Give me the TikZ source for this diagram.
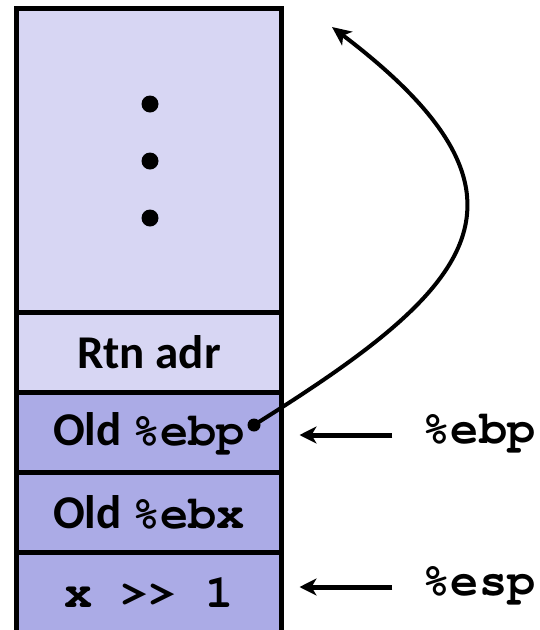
\documentclass[tikz,border=0pt]{standalone}
\usepackage{fontspec}
\setmainfont{Carlito}
\newcommand{\regfont}{\fontencoding{T1}\fontfamily{pcr}\fontseries{b}\selectfont}
\usepackage{tikz}
\usetikzlibrary{arrows.meta, positioning, calc}
\definecolor{StackLight}{RGB}{215,214,243}
\definecolor{StackDark}{RGB}{171,171,230}

\tikzset{
  cell/.style={draw=black, line width=5pt, outer sep=0pt, inner sep=0pt,
               minimum width=265pt, font=\fontsize{47pt}{56pt}\selectfont\bfseries},
  reglabel/.style={font=\fontsize{47pt}{56pt}\selectfont\regfont, inner sep=0pt},
  ptr/.style={-{Stealth[length=17pt, width=17pt, inset=5pt]}, line width=5pt},
}

\begin{document}
\begin{tikzpicture}[x=1pt, y=-1pt]
  \useasboundingbox (0,0) rectangle (539,630);
  % stack frame, top to bottom
  \node[cell, fill=StackLight, minimum height=304.5pt] (caller) at (149,160.25) {};
  \node[cell, fill=StackLight, minimum height=80pt, below=0pt of caller] (rtn) {Rtn adr};
  \node[cell, fill=StackDark, minimum height=80pt, below=0pt of rtn] (oldebp) {Old {\regfont\%ebp}};
  \node[cell, fill=StackDark, minimum height=80pt, below=0pt of oldebp] (oldebx) {Old {\regfont\%ebx}};
  \node[cell, fill=StackDark, minimum height=80pt, below=0pt of oldebx] (xshift) {{\regfont x {>}{>} 1}};

  % dots in the caller frame
  \foreach \y in {104,161,218}
    \fill (150,\y) circle (8.5pt);

  % saved frame pointer links back up
  \coordinate (link) at (254,425);
  \coordinate (prevframe) at (332,27);
  \fill (link) circle (6.5pt);
  \draw[-{Stealth[length=19pt, width=17pt, inset=5pt]}, line width=4pt]
    (link) .. controls (470,290) and (560,200) .. (prevframe);

  % register pointers
  \node[reglabel] (ebpreg) at (479,432) {\%ebp};
  \node[reglabel] (espreg) at (479,584) {\%esp};
  \draw[ptr] ($(ebpreg.west)+(-30,3)$) -- ($(oldebp.east |- ebpreg.west)+(18,3)$);
  \draw[ptr] ($(espreg.west)+(-30,3)$) -- ($(xshift.east |- espreg.west)+(18,3)$);
\end{tikzpicture}
\end{document}
